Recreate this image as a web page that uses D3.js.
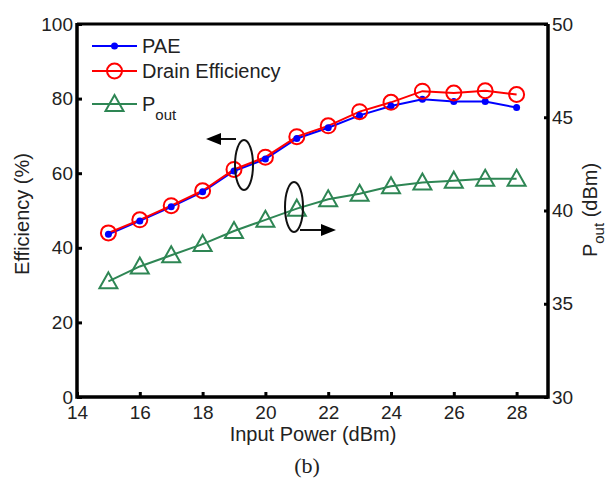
<!DOCTYPE html>
<html>
<head>
<meta charset="utf-8">
<script src="https://cdn.jsdelivr.net/npm/d3@7"></script>
<style>
	body { margin: 0; background: #fff; }
	text { font-family: "Liberation Sans", Arial, sans-serif; fill: #222; }
</style>
</head>
<body>
<script>
var inputPower = [15, 16, 17, 18, 19, 20, 21, 22, 23, 24, 25, 26, 27, 28];
var pae = [43.6, 47.2, 51.0, 55.0, 60.6, 63.8, 69.3, 72.2, 75.5, 78.0, 79.8, 79.2, 79.2, 77.6];
var drainEff = [44.0, 47.5, 51.3, 55.3, 61.0, 64.3, 69.8, 72.7, 76.5, 79.0, 82.0, 81.5, 82.1, 81.1];
var pout = [36.2, 37.0, 37.6, 38.2, 38.9, 39.5, 40.1, 40.6, 40.9, 41.3, 41.5, 41.6, 41.7, 41.7];
var xTicks = [14, 16, 18, 20, 22, 24, 26, 28];
var yLeftTicks = [0, 20, 40, 60, 80, 100];
var yRightTicks = [30, 35, 40, 45, 50];

var width = 609, height = 478;
var plotLeft = 77, plotRight = 548, plotTop = 24, plotBottom = 397;

var svg = d3.select("body").append("svg")
	.attr("width", width)
	.attr("height", height);

var x = d3.scaleLinear().domain([14, 29]).range([plotLeft, plotRight]);
var yL = d3.scaleLinear().domain([0, 100]).range([plotBottom, plotTop]);
var yR = d3.scaleLinear().domain([30, 50]).range([plotBottom, plotTop]);

var blue = "#0000ff", red = "#ff0000", green = "#2e8654";

// axes (ticks point inward)
var gx = svg.append("g").attr("transform", "translate(0," + plotBottom + ")")
	.call(d3.axisBottom(x).tickValues(xTicks).tickSizeInner(-5).tickSizeOuter(0).tickPadding(9));
var gl = svg.append("g").attr("transform", "translate(" + plotLeft + ",0)")
	.call(d3.axisLeft(yL).tickValues(yLeftTicks).tickSizeInner(-5).tickSizeOuter(0).tickPadding(4));
var gr = svg.append("g").attr("transform", "translate(" + plotRight + ",0)")
	.call(d3.axisRight(yR).tickValues(yRightTicks).tickSizeInner(-4).tickSizeOuter(0).tickPadding(4));

[gx, gl, gr].forEach(function(g) {
	g.select(".domain").remove();
	g.selectAll(".tick line").attr("stroke", "#000").attr("stroke-width", 3);
	g.selectAll(".tick text")
		.attr("font-size", "19px")
		.attr("font-family", "Liberation Sans, Arial, sans-serif")
		.attr("fill", "#222");
});

// box
svg.append("path")
	.attr("d", "M" + plotLeft + "," + (plotTop - 1) + "V" + plotBottom + "H" + plotRight + "V" + plotTop)
	.attr("fill", "none").attr("stroke", "#000").attr("stroke-width", 3.5);
svg.append("line")
	.attr("x1", plotLeft).attr("x2", plotRight).attr("y1", plotTop).attr("y2", plotTop)
	.attr("stroke", "#000").attr("stroke-width", 3);

// axis titles
svg.append("text")
	.attr("x", 313).attr("y", 441)
	.attr("text-anchor", "middle").attr("font-size", "20px")
	.text("Input Power (dBm)");
svg.append("text")
	.attr("transform", "translate(29,214) rotate(-90)")
	.attr("text-anchor", "middle").attr("font-size", "20px")
	.text("Efficiency (%)");
var rt = svg.append("text")
	.attr("transform", "translate(597,210) rotate(-90)")
	.attr("text-anchor", "middle").attr("font-size", "20px");
rt.append("tspan").text("P");
rt.append("tspan").attr("font-size", "15px").attr("dy", 7).text("out");
rt.append("tspan").attr("dy", -7).text(" (dBm)");

svg.append("text")
	.attr("x", 307).attr("y", 473)
	.attr("text-anchor", "middle").attr("font-size", "22px")
	.style("font-family", "Liberation Serif, serif")
	.text("(b)");

// lines
function lineOf(vals, y) {
	return d3.line()
		.x(function(d, i) { return x(inputPower[i]); })
		.y(function(d) { return y(d); })(vals);
}

svg.append("path").attr("d", lineOf(pout, yR))
	.attr("fill", "none").attr("stroke", green).attr("stroke-width", 2);
svg.append("path").attr("d", lineOf(pae, yL))
	.attr("fill", "none").attr("stroke", blue).attr("stroke-width", 2);
svg.append("path").attr("d", lineOf(drainEff, yL))
	.attr("fill", "none").attr("stroke", red).attr("stroke-width", 2);

function triangle(g, cx, cy) {
	g.append("path")
		.attr("d", "M" + cx + "," + (cy - 9) + "L" + (cx + 9) + "," + (cy + 7) + "L" + (cx - 9) + "," + (cy + 7) + "Z")
		.attr("fill", "none").attr("stroke", green).attr("stroke-width", 2);
}

var markG = svg.append("g");
pout.forEach(function(d, i) { triangle(markG, x(inputPower[i]), yR(d)); });

svg.selectAll(".pae-dot")
	.data(pae).enter().append("circle")
	.attr("class", "pae-dot")
	.attr("cx", function(d, i) { return x(inputPower[i]); })
	.attr("cy", function(d) { return yL(d); })
	.attr("r", 3.5).attr("fill", blue);

svg.selectAll(".de-circ")
	.data(drainEff).enter().append("circle")
	.attr("class", "de-circ")
	.attr("cx", function(d, i) { return x(inputPower[i]); })
	.attr("cy", function(d) { return yL(d); })
	.attr("r", 7.5).attr("fill", "none").attr("stroke", red).attr("stroke-width", 2);

// annotations: ellipses with arrows
function ellipseArrow(cx, cy, x1, x2, ay) {
	svg.append("ellipse")
		.attr("cx", cx).attr("cy", cy).attr("rx", 9).attr("ry", 25)
		.attr("fill", "none").attr("stroke", "#111").attr("stroke-width", 2);
	var dir = x2 < x1 ? -1 : 1;
	svg.append("line")
		.attr("x1", x1).attr("x2", x2 - dir * 13).attr("y1", ay).attr("y2", ay)
		.attr("stroke", "#111").attr("stroke-width", 2);
	svg.append("path")
		.attr("d", "M" + x2 + "," + ay + "L" + (x2 - dir * 15) + "," + (ay - 6) + "L" + (x2 - dir * 15) + "," + (ay + 6) + "Z")
		.attr("fill", "#000");
}
ellipseArrow(244, 165, 236, 206, 139);
ellipseArrow(294, 207, 300, 336, 230);

// legend
var legend = svg.append("g");
var legendRows = [
	{ label: "PAE", color: blue, y: 46, kind: "dot" },
	{ label: "Drain Efficiency", color: red, y: 71, kind: "circ" },
	{ label: "P", sub: "out", color: green, y: 104, kind: "tri" }
];
legendRows.forEach(function(r) {
	legend.append("line")
		.attr("x1", 92).attr("x2", 137).attr("y1", r.y).attr("y2", r.y)
		.attr("stroke", r.color).attr("stroke-width", 2);
	if (r.kind == "dot") {
		legend.append("circle").attr("cx", 114.5).attr("cy", r.y).attr("r", 3.5).attr("fill", r.color);
	} else if (r.kind == "circ") {
		legend.append("circle").attr("cx", 114.5).attr("cy", r.y).attr("r", 7.5)
			.attr("fill", "none").attr("stroke", r.color).attr("stroke-width", 2);
	} else {
		triangle(legend, 114.5, r.y);
	}
	var t = legend.append("text")
		.attr("x", 142).attr("y", r.y + 7)
		.attr("font-size", "20px")
		.text(r.label);
	if (r.sub) {
		t.append("tspan").attr("font-size", "15px").attr("dy", 9).text(r.sub);
	}
});
</script>
</body>
</html>
